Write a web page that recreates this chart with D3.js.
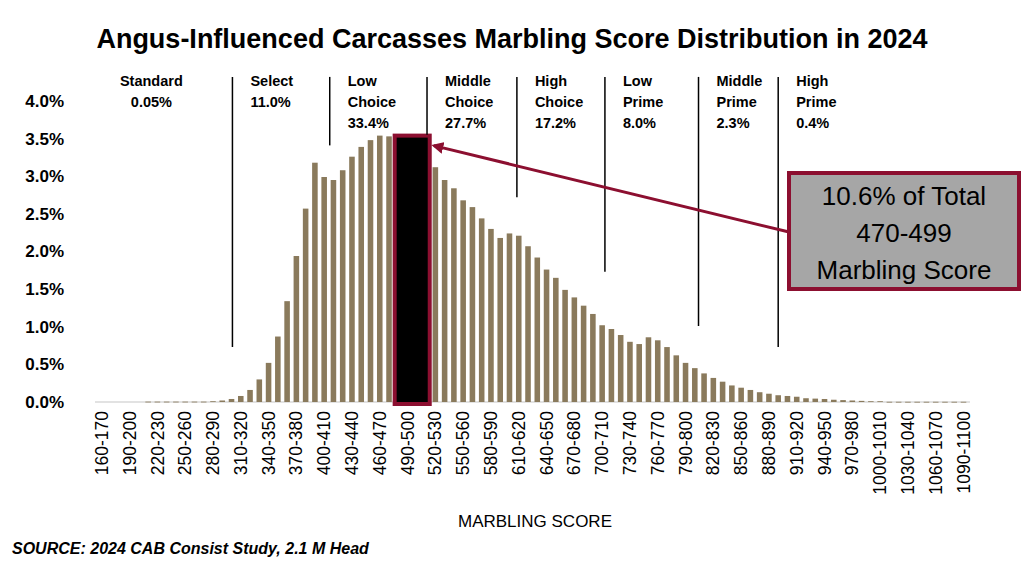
<!DOCTYPE html>
<html><head><meta charset="utf-8">
<script src="https://cdn.jsdelivr.net/npm/d3@7"></script>
<style>body{margin:0;background:#fff}svg{font-family:"Liberation Sans",Arial,sans-serif}</style>
</head><body><svg id="c" width="1024" height="572"></svg>
<script>
const binStarts = d3.range(160, 1100, 10);
const values = [0,0,0,0,0,0.005,0.005,0.005,0.005,0.005,0.005,0.005,
 0.01,0.02,0.04,0.08,0.16,0.30,0.52,0.87,1.34,1.94,2.57,3.18,2.99,2.95,3.08,3.26,3.39,3.48,3.54,3.53,
 null,null,null,null,
 3.12,2.95,2.84,2.68,2.59,2.44,2.30,2.18,2.24,2.21,2.07,1.92,1.76,1.65,1.49,1.39,1.28,1.17,1.02,0.97,0.89,0.80,0.77,0.86,0.82,0.73,
 0.62,0.52,0.45,0.38,0.32,0.27,0.22,0.19,0.16,0.13,0.11,0.09,0.08,0.07,0.05,0.045,0.04,0.03,0.025,0.02,0.015,0.01,0.01,
 0.003,0.003,0.003,0.003,0.003,0.003,0.003,0.003,0.003,0.01];
const highlightBins = [480,490,500,510];
const highlightValue = 3.54;
const yTicks = [0,0.5,1,1.5,2,2.5,3,3.5,4];
const gradeNames = [["Standard","0.05%"],["Select","11.0%"],["Low","Choice","33.4%"],["Middle","Choice","27.7%"],["High","Choice","17.2%"],["Low","Prime","8.0%"],["Middle","Prime","2.3%"],["High","Prime","0.4%"]];
const gradeBoundaries = [301,406,511,608,703,804,890];
const boundaryBottoms = [0.73,3.41,3.55,2.72,1.73,1.01,0.73];
const boundaryTop = 4.32;
const calloutLines = ["10.6% of Total","470-499","Marbling Score"];

const svg = d3.select("#c");
const RED = "#8c0f30", BAR = "#8a7a5c";
const x = d3.scaleBand().domain(binStarts).range([95.3, 970]).padding(0.4);
const y = d3.scaleLinear().domain([0, 4]).range([402, 101]);
const xc = b => x(b) + x.bandwidth() / 2;
const xv = d3.scaleLinear().domain([160, 1090]).range([xc(160), xc(1090)]);

svg.append("text").attr("x", 512).attr("y", 48).attr("text-anchor", "middle")
  .attr("font-size", 27).attr("font-weight", "bold").text("Angus-Influenced Carcasses Marbling Score Distribution in 2024");

const ya = svg.append("g").attr("transform", "translate(70,0)")
  .call(d3.axisLeft(y).tickValues(yTicks).tickSize(0).tickFormat(d => d.toFixed(1) + "%"));
ya.select(".domain").remove();
ya.selectAll("text").attr("font-size", 17).attr("font-weight", "bold").attr("fill", "#000")
  .attr("font-family", "Liberation Sans, Arial, sans-serif").attr("x", -6);

svg.append("line").attr("x1", 95).attr("x2", 970).attr("y1", y(0)).attr("y2", y(0)).attr("stroke", "#d9d9d9").attr("stroke-width", 1.5);

svg.append("g").selectAll("rect").data(binStarts.map((b, i) => ({b, v: values[i]})).filter(d => d.v != null && d.v > 0))
  .join("rect").attr("x", d => x(d.b)).attr("width", x.bandwidth())
  .attr("y", d => y(d.v)).attr("height", d => Math.max(0.8, y(0) - y(d.v))).attr("fill", BAR);

const hx0 = x(highlightBins[0]) - x.step() * x.padding() / 2 + 1;
const hx1 = x(highlightBins[highlightBins.length - 1]) + x.bandwidth() + x.step() * x.padding() / 2 - 1;
svg.append("rect").attr("x", hx0).attr("width", hx1 - hx0).attr("y", y(highlightValue))
  .attr("height", y(0) - y(highlightValue) + 2).attr("fill", "#000").attr("stroke", RED).attr("stroke-width", 4);

const xa = svg.append("g").attr("transform", `translate(0,${y(0) + 9})`)
  .call(d3.axisBottom(x).tickValues(binStarts.filter((b, i) => i % 3 === 0)).tickSize(0).tickFormat(b => b + "-" + (b + 10)));
xa.select(".domain").remove();
xa.selectAll("text").attr("font-size", 17.5).attr("fill", "#000").attr("font-family", "Liberation Sans, Arial, sans-serif")
  .attr("text-anchor", "end").attr("x", 0).attr("y", 0).attr("dy", "0.35em").attr("transform", "rotate(-90)");

svg.append("text").attr("x", 535).attr("y", 527).attr("text-anchor", "middle").attr("font-size", 17).text("MARBLING SCORE");
svg.append("text").attr("x", 12).attr("y", 554).attr("font-size", 16).attr("font-weight", "bold").attr("font-style", "italic")
  .text("SOURCE: 2024 CAB Consist Study, 2.1 M Head");

svg.append("g").selectAll("line").data(gradeBoundaries).join("line")
  .attr("x1", d => xv(d)).attr("x2", d => xv(d)).attr("y1", y(boundaryTop)).attr("y2", (d, i) => y(boundaryBottoms[i]))
  .attr("stroke", "#000").attr("stroke-width", 1.5);

const labelX = [null].concat(gradeBoundaries);
gradeNames.forEach((g, i) => {
  const t = svg.append("text").attr("font-size", 14.5).attr("font-weight", "bold");
  if (i === 0) t.attr("x", (xv(180) + xv(gradeBoundaries[0])) / 2 - 25).attr("text-anchor", "middle");
  else t.attr("x", xv(labelX[i]) + 18);
  g.forEach((s, j) => t.append("tspan").attr("x", t.attr("x")).attr("y", 86 + j * 21).text(s));
});

const defs = svg.append("defs");
defs.append("marker").attr("id", "ah").attr("viewBox", "0 0 10 10").attr("refX", 8).attr("refY", 5)
  .attr("markerWidth", 4).attr("markerHeight", 4).attr("orient", "auto")
  .append("path").attr("d", "M0,0L10,5L0,10z").attr("fill", RED);
svg.append("line").attr("x1", 789).attr("y1", 232).attr("x2", hx1 + 4).attr("y2", y(highlightValue) + 10)
  .attr("stroke", RED).attr("stroke-width", 3).attr("marker-end", "url(#ah)");

svg.append("rect").attr("x", 789).attr("y", 173).attr("width", 230).attr("height", 116)
  .attr("fill", "#a6a6a6").attr("stroke", RED).attr("stroke-width", 4);
calloutLines.forEach((s, i) => svg.append("text").attr("x", 904).attr("y", 205 + i * 37)
  .attr("text-anchor", "middle").attr("font-size", 26).text(s));
</script></body></html>
